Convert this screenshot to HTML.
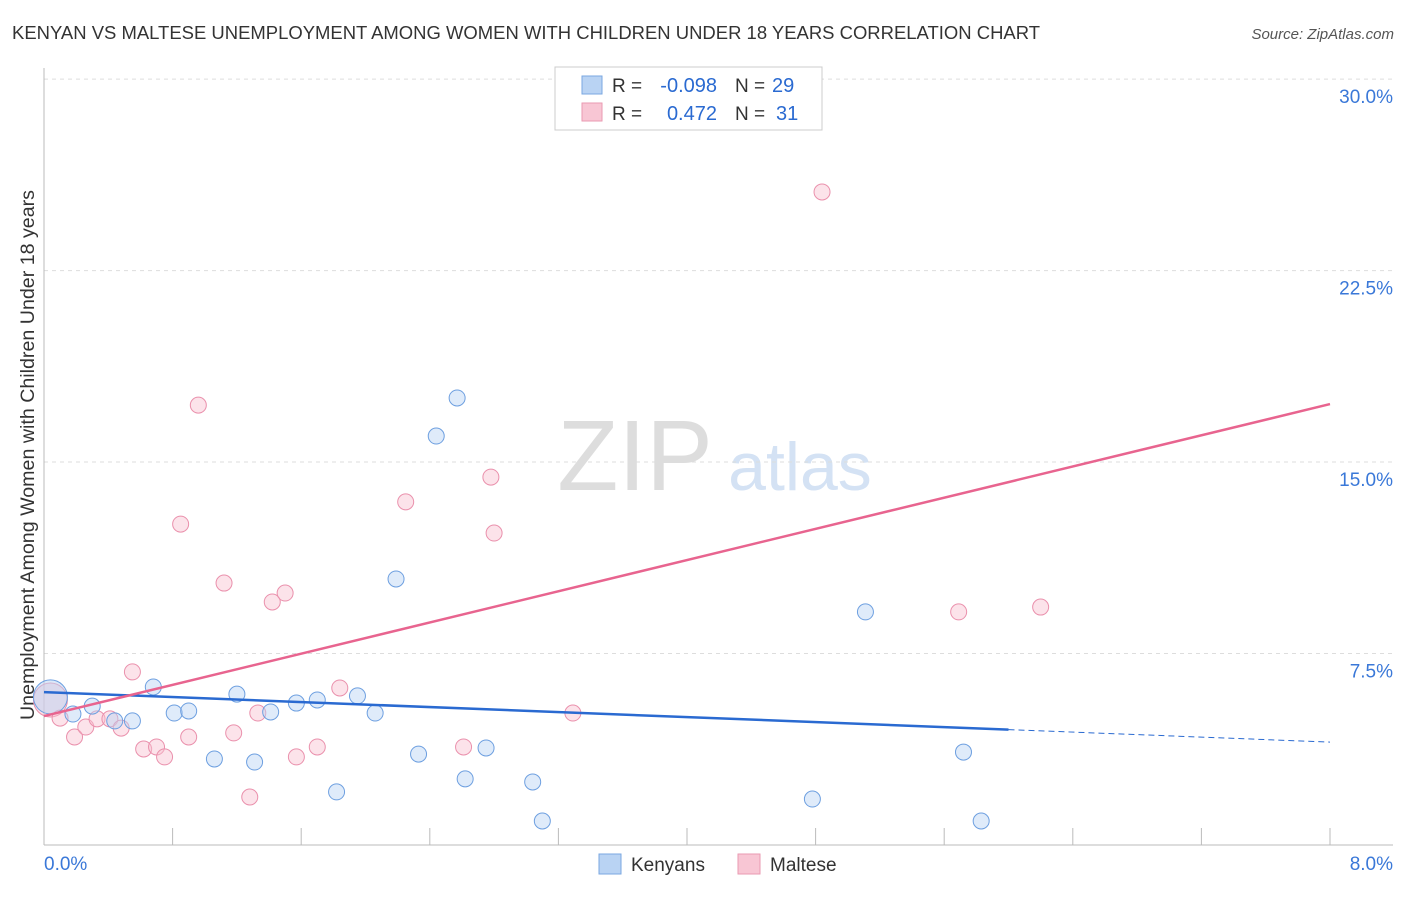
<!DOCTYPE html>
<html><head><meta charset="utf-8"><style>
body{margin:0;background:#fff;font-family:"Liberation Sans",sans-serif;}
svg text{font-family:"Liberation Sans",sans-serif;}
</style></head><body>
<svg id="chart" width="1406" height="892">
<text x="12" y="39" font-size="18" textLength="1028" lengthAdjust="spacingAndGlyphs" fill="#333">KENYAN VS MALTESE UNEMPLOYMENT AMONG WOMEN WITH CHILDREN UNDER 18 YEARS CORRELATION CHART</text>
<text x="1394" y="39" font-size="15" fill="#555" font-style="italic" text-anchor="end">Source: ZipAtlas.com</text>
<text x="635" y="490" font-size="100" fill="#ddd" font-family="Liberation Serif" text-anchor="middle">ZIP</text>
<text x="800" y="490" font-size="68" fill="#d4e2f4" text-anchor="middle">atlas</text>
<text transform="translate(34,455) rotate(-90)" font-size="19" textLength="530" lengthAdjust="spacingAndGlyphs" fill="#333" text-anchor="middle">Unemployment Among Women with Children Under 18 years</text>
<g id="grid"></g><g id="marks"></g>
<g>
<rect x="555" y="67" width="267" height="63" fill="#fff" stroke="#ccc"/>
<rect x="582" y="76" width="20" height="18" fill="#b9d3f3" stroke="#7aa7e0"/>
<rect x="582" y="103" width="20" height="18" fill="#f8c6d4" stroke="#ea9ab2"/>
<text x="612" y="92" font-size="19" fill="#333">R =</text>
<text x="717" y="92" font-size="20" fill="#2a6ad1" text-anchor="end">-0.098</text>
<text x="735" y="92" font-size="19" fill="#333">N =</text>
<text x="772" y="92" font-size="20" fill="#2a6ad1">29</text>
<text x="612" y="120" font-size="19" fill="#333">R =</text>
<text x="717" y="120" font-size="20" fill="#2a6ad1" text-anchor="end">0.472</text>
<text x="735" y="120" font-size="19" fill="#333">N =</text>
<text x="776" y="120" font-size="20" fill="#2a6ad1">31</text>
</g>
<g>
<rect x="599" y="854" width="22" height="20" fill="#b9d3f3" stroke="#7aa7e0"/>
<text x="631" y="871" font-size="19" fill="#333">Kenyans</text>
<rect x="738" y="854" width="22" height="20" fill="#f8c6d4" stroke="#ea9ab2"/>
<text x="770" y="871" font-size="19" fill="#333">Maltese</text>
</g>
</svg>
<script>
const yTicks=[7.5,15,22.5,30];
const kenX=[0.04,0.18,0.30,0.44,0.55,0.68,0.81,0.90,1.06,1.20,1.31,1.41,1.57,1.70,1.82,1.95,2.06,2.19,2.33,2.44,2.57,2.62,2.75,3.04,3.10,4.78,5.11,5.72,5.83];
const kenY=[5.80,5.13,5.44,4.86,4.86,6.19,5.17,5.25,3.37,5.91,3.25,5.21,5.56,5.68,2.08,5.84,5.17,10.42,3.56,16.02,17.51,2.59,3.80,2.47,0.94,1.80,9.13,3.64,0.94];
const malX=[0.04,0.10,0.19,0.26,0.33,0.41,0.48,0.55,0.62,0.70,0.75,0.85,0.90,0.96,1.12,1.18,1.28,1.33,1.42,1.50,1.57,1.70,1.84,2.25,2.61,2.78,2.80,3.29,4.84,5.69,6.20];
const malY=[5.68,4.97,4.23,4.62,4.94,4.94,4.58,6.78,3.76,3.84,3.45,12.57,4.23,17.23,10.26,4.39,1.88,5.17,9.52,9.87,3.45,3.84,6.15,13.44,3.84,14.41,12.22,5.17,25.58,9.13,9.32];
const kenTrend=[5.99,4.03];
const malTrend=[5.05,17.27];
const X=v=>44+v*160.75, Y=v=>845-v*25.53;
const NS="http://www.w3.org/2000/svg";
function mk(t,a,p){const e=document.createElementNS(NS,t);for(const k in a)e.setAttribute(k,a[k]);p.appendChild(e);return e;}
const g=document.getElementById('grid'), m=document.getElementById('marks');
yTicks.forEach(t=>{
 const l=mk('line',{x1:44,x2:1393,y1:Y(t),y2:Y(t),stroke:'#ddd','stroke-dasharray':'4,4'},g);
 
 
 const tx=mk('text',{x:1393,y:Y(t)+24,'font-size':19,fill:'#3a78d8','text-anchor':'end'},g);
 tx.textContent=t.toFixed(1)+'%';
 
 
});
mk('line',{x1:44,x2:44,y1:68,y2:845,stroke:'#bbb'},g);
mk('line',{x1:44,x2:1393,y1:845,y2:845,stroke:'#bbb'},g);
for(let i=1;i<=10;i++){mk('line',{x1:X(i*0.8),x2:X(i*0.8),y1:828,y2:845,stroke:'#bbb'},g);}
const xl0=mk('text',{x:44,y:870,'font-size':19,fill:'#3a78d8'},g);xl0.textContent='0.0%';


const xl1=mk('text',{x:1393,y:870,'font-size':19,fill:'#3a78d8','text-anchor':'end'},g);xl1.textContent='8.0%';


function pts(xs,ys,fill,stroke,name){xs.forEach((x,i)=>{
 const c=mk('circle',{cx:X(x),cy:Y(ys[i]),r:i==0?17:8,fill:fill,stroke:stroke,'stroke-width':1,'fill-opacity':i==0?0.5:0.45},m);
 
 
});}
pts(malX,malY,'#f8c0d0','#ea90ac','maltese-point');
pts(kenX,kenY,'#b9d3f3','#6d9fe0','kenyan-point');
const kAt=x=>kenTrend[0]+(kenTrend[1]-kenTrend[0])*x/8;
const t1=mk('line',{x1:X(0),y1:Y(kAt(0)),x2:X(6),y2:Y(kAt(6)),stroke:'#2a6ad1','stroke-width':2.5},m);


const t2=mk('line',{x1:X(6),y1:Y(kAt(6)),x2:X(8),y2:Y(kAt(8)),stroke:'#2a6ad1','stroke-width':1,'stroke-dasharray':'6,4'},m);


const t3=mk('line',{x1:X(0),y1:Y(malTrend[0]),x2:X(8),y2:Y(malTrend[1]),stroke:'#e8648f','stroke-width':2.5},m);


</script>
</body></html>
